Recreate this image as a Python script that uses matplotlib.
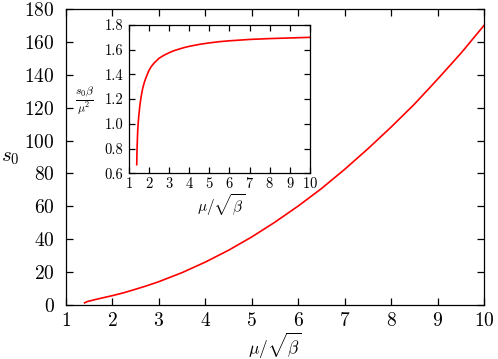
import matplotlib
matplotlib.use("Agg")
import matplotlib.pyplot as plt

plt.rcParams["font.family"] = "serif"
plt.rcParams["font.serif"] = ["cmr10", "DejaVu Serif"]
plt.rcParams["mathtext.fontset"] = "cm"
plt.rcParams["axes.formatter.use_mathtext"] = True

# main curve: s0 against mu/sqrt(beta)
main_x = [1.40, 1.45, 1.5, 1.6, 1.75, 2.0, 2.25, 2.5, 2.75, 3.0, 3.5, 4.0,
          4.5, 5.0, 5.5, 6.0, 6.5, 7.0, 7.5, 8.0, 8.5, 9.0, 9.5, 10.0]
main_s0 = [1.3, 2.0, 2.4, 3.1, 4.1, 5.7, 7.5, 9.6, 11.8, 14.2, 19.7, 26.1,
           33.3, 41.4, 50.4, 60.2, 70.8, 82.5, 95.0, 108.2, 122.1, 137.3,
           153.0, 170.0]

# inset: s0*beta/mu^2 against mu/sqrt(beta)
inset_x = [1.40, 1.41, 1.42, 1.435, 1.45, 1.475, 1.5, 1.55, 1.6, 1.65, 1.7,
           1.775, 1.85, 1.925, 2.0, 2.125, 2.25, 2.375, 2.5, 2.75, 3.0, 3.25,
           3.5, 3.75, 4.0, 4.5, 5.0, 5.5, 6.0, 7.0, 8.0, 9.0, 10.0]
inset_ratio = [0.67, 0.76, 0.82, 0.89, 0.95, 1.01, 1.06, 1.14, 1.20, 1.25,
               1.29, 1.335, 1.37, 1.40, 1.43, 1.465, 1.49, 1.51, 1.53, 1.555,
               1.575, 1.592, 1.605, 1.617, 1.627, 1.643, 1.655, 1.665, 1.672,
               1.683, 1.69, 1.695, 1.70]

main_xticks = list(range(1, 11))
main_yticks = list(range(0, 181, 20))
inset_yticks = [0.6, 0.8, 1.0, 1.2, 1.4, 1.6, 1.8]

fig = plt.figure(figsize=(4.98, 3.59), dpi=100)

ax = fig.add_axes([0.1325, 0.1504, 0.8394, 0.8245])
ax.plot(main_x, main_s0, color="#ff0000", lw=1.2)
ax.set_xlim(1, 10)
ax.set_ylim(0, 180)
ax.set_xticks(main_xticks)
ax.set_yticks(main_yticks)
ax.tick_params(direction="in", top=True, right=True, length=5, width=0.9,
               labelsize=14)
ax.tick_params(axis="y", pad=8)
ax.tick_params(axis="x", pad=5)
for s in ax.spines.values():
    s.set_linewidth(0.9)
ax.set_xlabel(r"$\mu/\sqrt{\beta}$", fontsize=12.5)
ax.xaxis.set_label_coords(0.50, -0.089)
ax.set_ylabel(r"$s_0$", fontsize=15, rotation=0, va="center", ha="center")
ax.yaxis.set_label_coords(-0.134, 0.497)

ins = fig.add_axes([0.2584, 0.5173, 0.364, 0.4131])
ins.plot(inset_x, inset_ratio, color="#ff0000", lw=1.2)
ins.set_xlim(1, 10)
ins.set_ylim(0.6, 1.8)
ins.set_xticks(main_xticks)
ins.set_yticks(inset_yticks)
ins.set_yticklabels(["%.1f" % v for v in inset_yticks])
ins.tick_params(direction="in", top=True, right=True, length=4, width=0.9,
                labelsize=10.5)
ins.tick_params(axis="y", pad=4)
ins.tick_params(axis="x", pad=2)
for s in ins.spines.values():
    s.set_linewidth(0.9)
ins.set_xlabel(r"$\mu/\sqrt{\beta}$", fontsize=11)
ins.xaxis.set_label_coords(0.51, -0.125)
ins.set_ylabel(r"$\frac{s_0\beta}{\mu^2}$", fontsize=12, rotation=0,
               va="center", ha="center")
ins.yaxis.set_label_coords(-0.241, 0.494)

fig.savefig("out.png", dpi=100)
